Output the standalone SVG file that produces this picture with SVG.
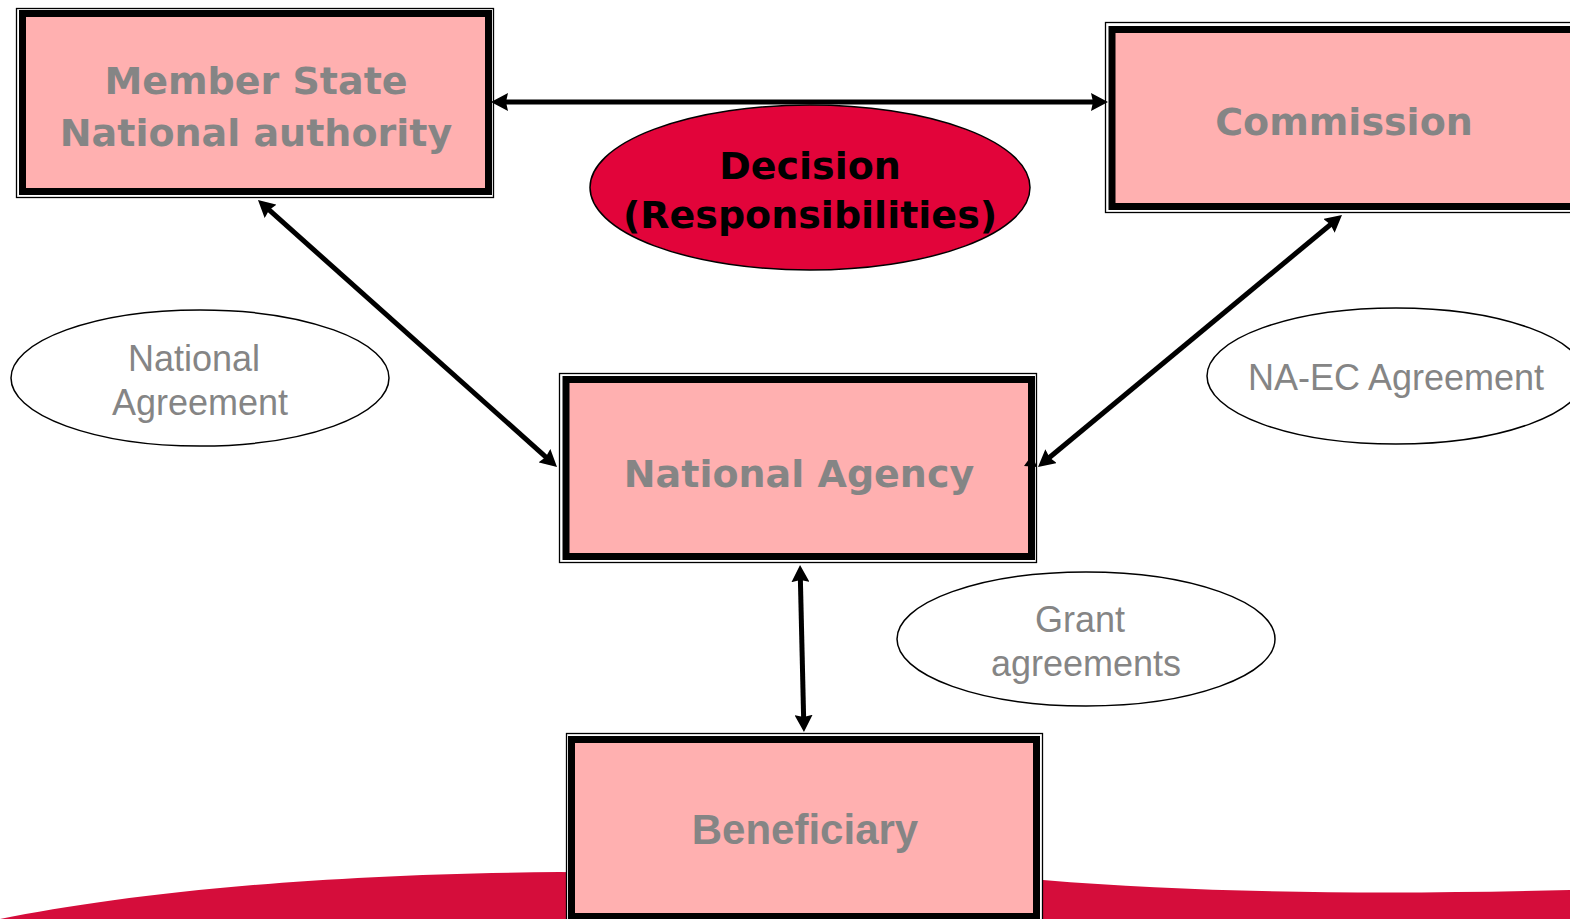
<svg xmlns="http://www.w3.org/2000/svg" width="1570" height="919" viewBox="0 0 1570 919">
<style>
.thin{fill:#ffffff;stroke:#000000;stroke-width:1.3}
.thick{fill:#FFB0B0;stroke:#000000;stroke-width:7}
.bt{font-family:"DejaVu Sans","Verdana",sans-serif;font-weight:bold;font-size:38px;fill:#858585;text-anchor:middle}
.rt{font-family:"Liberation Sans","Arial",sans-serif;font-size:36px;fill:#858585;text-anchor:middle}
.oval{fill:#ffffff;stroke:#000000;stroke-width:1.5}
.conn{stroke:#000000;stroke-width:5;fill:none;marker-start:url(#ah);marker-end:url(#ah)}
</style>
<defs>
<marker id="ah" markerUnits="userSpaceOnUse" markerWidth="18" markerHeight="18" refX="10" refY="9" orient="auto-start-reverse">
<path d="M0,0 L17,9 L0,18 L2,9 Z" fill="#000000"/>
</marker>
</defs>
<rect x="0" y="0" width="1570" height="919" fill="#ffffff"/>
<path id="wave" d="M0,919 C120,895 300,874 560,872 L1043,880 C1200,893 1380,895 1570,890 L1570,919 Z" fill="#D50D3B"/>
<g id="member-state">
<rect class="thin" x="16.5" y="8.5" width="477" height="189"/>
<rect class="thick" x="22.5" y="13.5" width="466" height="178"/>
<text class="bt" x="256" y="94">Member State</text>
<text class="bt" x="256" y="146">National authority</text>
</g>
<g id="commission">
<rect class="thin" x="1105.5" y="22.5" width="480" height="190"/>
<rect class="thick" x="1112" y="29.5" width="470" height="177"/>
<text class="bt" x="1344" y="135">Commission</text>
</g>
<g id="decision">
<ellipse cx="810" cy="187.5" rx="220" ry="82.5" fill="#E2043A" stroke="#000000" stroke-width="1.5"/>
<text class="bt" x="810" y="179" style="fill:#000000">Decision</text>
<text class="bt" x="810" y="228" style="fill:#000000">(Responsibilities)</text>
</g>
<g id="national-agreement">
<ellipse class="oval" cx="200" cy="378" rx="189" ry="68"/>
<text class="rt" x="194" y="371">National</text>
<text class="rt" x="200" y="415">Agreement</text>
</g>
<g id="na-ec-agreement">
<ellipse class="oval" cx="1396" cy="376" rx="189" ry="68"/>
<text class="rt" x="1396" y="390">NA-EC Agreement</text>
</g>
<g id="national-agency">
<rect class="thin" x="559.5" y="373.5" width="477" height="189"/>
<rect class="thick" x="566" y="379.5" width="465.5" height="177"/>
<text class="bt" x="799" y="487">National Agency</text>
</g>
<g id="grant-agreements">
<ellipse class="oval" cx="1086" cy="639" rx="189" ry="67"/>
<text class="rt" x="1080" y="632">Grant</text>
<text class="rt" x="1086" y="676">agreements</text>
</g>
<g id="beneficiary">
<rect class="thin" x="566.5" y="733.5" width="476" height="200"/>
<rect class="thick" x="571.5" y="739.5" width="465" height="177"/>
<text x="805" y="844" style="font-family:'Liberation Sans',Arial,sans-serif;font-weight:bold;font-size:42px;fill:#858585;text-anchor:middle">Beneficiary</text>
</g>
<g id="connectors">
<line class="conn" x1="498" y1="102" x2="1101" y2="102"/>
<line class="conn" x1="263.2" y1="204.7" x2="551.8" y2="462.3"/>
<line class="conn" x1="1336.6" y1="219.5" x2="1043.4" y2="462.5"/>
<line class="conn" x1="800.2" y1="572" x2="803.8" y2="725"/>
<polygon points="1024,466 1032,455 1037,467" fill="#000000"/>
</g>
</svg>
